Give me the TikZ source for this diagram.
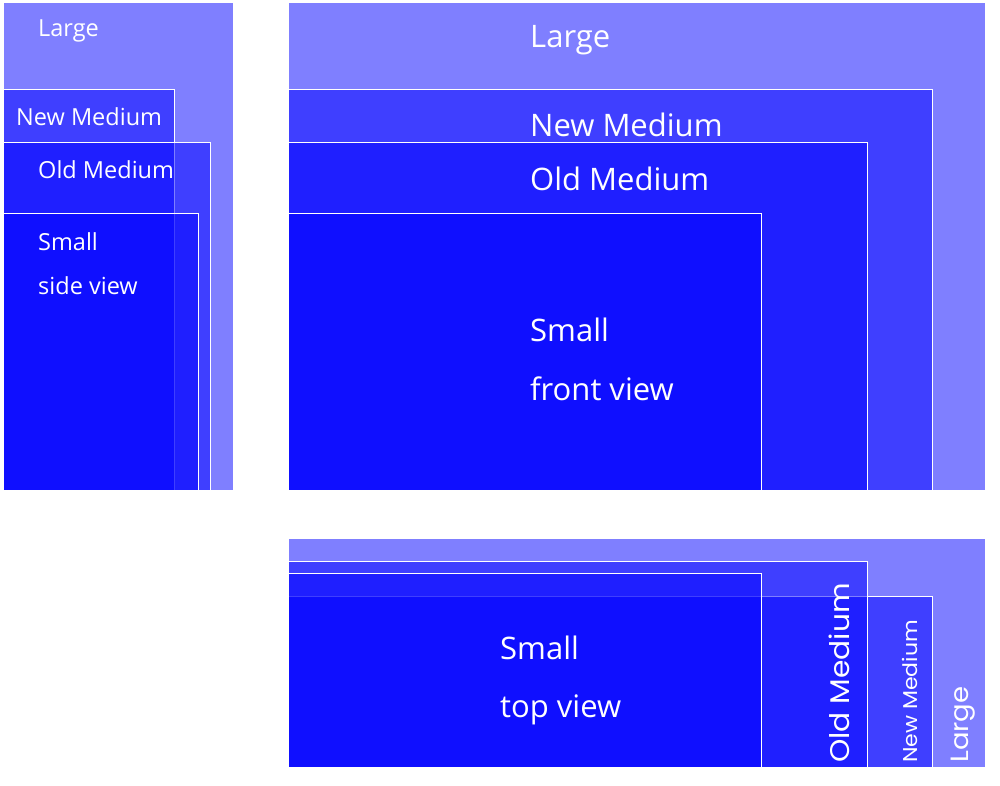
\documentclass[tikz,border=0pt]{standalone}
\usepackage{fontspec}
\setmainfont{Open Sans}
\newfontfamily\geofont[FakeStretch=1.1]{Poppins}
\usepackage{tikz}

\begin{document}
\begin{tikzpicture}[x=1pt,y=-1pt]
\tikzstyle{box}=[fill=blue,fill opacity=0.5,draw=white,draw opacity=1,line width=1pt];
\tikzstyle{lbl}=[text=white,anchor=base west,inner sep=0pt];
\tikzstyle{sidelbl}=[lbl,font=\fontsize{23.5}{28}\selectfont];
\tikzstyle{frontlbl}=[lbl,font=\fontsize{31}{36}\selectfont];
\tikzstyle{uplbl}=[lbl,rotate=90];
\useasboundingbox (0,0) rectangle (1000,785);
% side view
\path[box] (3,2) rectangle (233,490);
\path[box] (3,89) rectangle (174,490);
\path[box] (3,142) rectangle (210,490);
\path[box] (3,213) rectangle (198,490);
\node[sidelbl] (sideL) at (38,36) {Large};
\node[sidelbl] (sideNM) at (16,125) {New Medium};
\node[sidelbl] (sideOM) at (38,178) {Old Medium};
\node[sidelbl] (sideS) at (38,250) {Small};
\node[sidelbl] (sideV) at (38,294) {side view};
% front view
\path[box] (288,2) rectangle (985,490);
\path[box] (288,89) rectangle (932,490);
\path[box] (288,142) rectangle (867,490);
\path[box] (288,213) rectangle (761,490);
\node[frontlbl] (frontL) at (530,47) {Large};
\node[frontlbl] (frontNM) at (530,136) {New Medium};
\node[frontlbl] (frontOM) at (530,190) {Old Medium};
\node[frontlbl] (frontS) at (530,341) {Small};
\node[frontlbl] (frontV) at (530,400) {front view};
% top view
\path[box] (288,538) rectangle (985,767);
\path[box] (288,596) rectangle (932,767);
\path[box] (288,561) rectangle (867,767);
\path[box] (288,573) rectangle (761,767);
\node[frontlbl] (topS) at (500,659) {Small};
\node[frontlbl] (topV) at (500,717) {top view};
\node[uplbl,font=\geofont\fontsize{27}{30}\selectfont] (topOM) at (849,763) {Old Medium};
\node[uplbl,font=\geofont\fontsize{20}{26}\selectfont] (topNM) at (917,763) {New Medium};
\node[uplbl,font=\geofont\fontsize{25}{30}\selectfont] (topL) at (968,763) {Large};
\end{tikzpicture}
\end{document}
